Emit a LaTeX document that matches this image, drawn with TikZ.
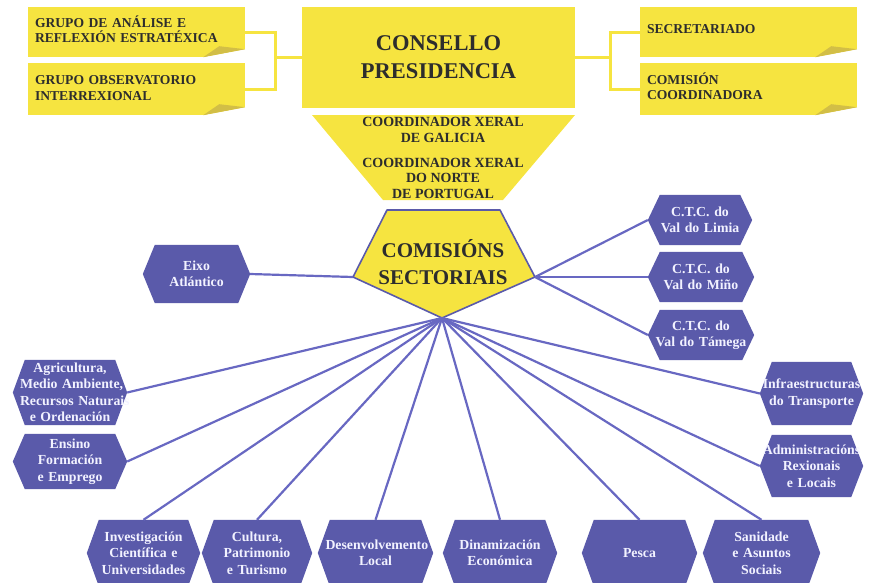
\documentclass[tikz,border=0pt]{standalone}
\usepackage{fontspec}
\setmainfont{Liberation Serif}
\usetikzlibrary{backgrounds}
\pgfdeclarelayer{foreground}
\pgfsetlayers{background,main,foreground}
\definecolor{yel}{RGB}{246,228,64}
\definecolor{fold}{RGB}{210,190,70}
\definecolor{hexf}{RGB}{90,90,170}
\definecolor{conn}{RGB}{104,104,194}
\definecolor{ink}{RGB}{45,45,45}
\definecolor{hext}{RGB}{242,242,255}
\tikzset{
  note/.style={fill=yel, draw=none, minimum width=217pt, minimum height=50pt,
    inner xsep=7pt, inner ysep=0pt, text width=203pt, align=left, text depth=21pt,
    font=\fontsize{13.6}{15.5}\selectfont\bfseries, text=ink,
    append after command={\pgfextra{\begin{pgfonlayer}{foreground}
      \fill[white] (\tikzlastnode.south east) -- ([xshift=-42pt]\tikzlastnode.south east)
        -- ([yshift=8pt]\tikzlastnode.south east) -- cycle;
      \fill[fold] ([xshift=-42pt]\tikzlastnode.south east) -- ([yshift=8pt]\tikzlastnode.south east)
        -- ([xshift=-26pt,yshift=11pt]\tikzlastnode.south east) -- cycle;
      \end{pgfonlayer}}}},
  hexbox/.style 2 args={minimum width=#1, minimum height=#2, inner sep=0pt,
    text width=100pt, align=center, text=hext,
    font=\fontsize{13.8}{16.5}\selectfont\bfseries,
    append after command={\pgfextra{\begin{pgfonlayer}{background}
      \fill[hexf] ([xshift=12pt]\tikzlastnode.north west) -- ([xshift=-12pt]\tikzlastnode.north east)
        -- (\tikzlastnode.east) -- ([xshift=-12pt]\tikzlastnode.south east)
        -- ([xshift=12pt]\tikzlastnode.south west) -- (\tikzlastnode.west) -- cycle;
      \end{pgfonlayer}}}},
  yline/.style={draw=yel, line width=3pt},
  conn/.style={draw=conn, line width=2.2pt},
  bigtxt/.style={text=ink, align=center, font=\fontsize{22.5}{28}\selectfont\bfseries},
  midtxt/.style={text=ink, align=center, font=\fontsize{14}{15.5}\selectfont\bfseries},
}
\begin{document}
\begin{tikzpicture}[x=1pt,y=-1pt]
\useasboundingbox (0,0) rectangle (874,582);
\clip (0,0) rectangle (874,582);

% top yellow boxes
\node[note] (g1) at (136.5,32) {GRUPO DE ANÁLISE E\\REFLEXIÓN ESTRATÉXICA};
\node[note, minimum height=52pt, text depth=18pt] (g2) at (136.5,89) {GRUPO OBSERVATORIO\\INTERREXIONAL};
\node[note, text depth=7pt, inner ysep=3pt] (s1) at (748.5,32) {SECRETARIADO};
\node[note, minimum height=52pt] (s2) at (748.5,89) {COMISIÓN\\COORDINADORA};
\node[fill=yel, minimum width=273pt, minimum height=101pt, bigtxt] (cons) at (438.5,57.5) {CONSELLO\\PRESIDENCIA};

\coordinate (jl) at (275,57.5);
\coordinate (jr) at (610,57.5);
\draw[yline] (g1.east) -| (jl) |- (g2.east);
\draw[yline] (jl) -- (cons.west);
\draw[yline] (s1.west) -| (jr) |- (s2.west);
\draw[yline] (jr) -- (cons.east);

% trapezoid
\fill[yel] (312,115) -- (575,115) -- (503,200) -- (383,200) -- cycle;
\node[midtxt] (cg) at (443,130) {COORDINADOR XERAL\\DE GALICIA};
\node[midtxt] (cp) at (443,178) {COORDINADOR XERAL\\DO NORTE\\DE PORTUGAL};

% pentagon
\coordinate (pl) at (353,277);
\coordinate (pr) at (535,277);
\coordinate (hub) at (442,318);
\draw[fill=yel, draw=hexf, line width=1.6pt, line join=round] (387,210) -- (500,210) -- (pr) -- (hub) -- (pl) -- cycle;
\node[bigtxt, font=\fontsize{21}{27}\selectfont\bfseries] (cs) at (443,262) {COMISIÓNS\\SECTORIAIS};

% hexagons
\node[hexbox={107pt}{58pt}] (eixo) at (196.5,274) {Eixo\\Atlántico};
\node[hexbox={104pt}{50pt}] (limia) at (700,220) {C.T.C. do\\Val do Limia};
\node[hexbox={106pt}{50pt}] (mino) at (701,277) {C.T.C. do\\Val do Miño};
\node[hexbox={106pt}{50pt}] (tamega) at (701,335) {C.T.C. do\\Val do Támega};
\node[hexbox={114pt}{65pt}] (agri) at (70,392.5) {Agricultura,\\\mbox{Medio Ambiente,}\\\mbox{Recursos Naturais}\\e Ordenación};
\node[hexbox={114pt}{55pt}] (ensino) at (70,461.5) {Ensino\\Formación\\e Emprego};
\node[hexbox={103pt}{63pt}] (infra) at (811.5,393.5) {\mbox{Infraestructuras}\\do Transporte};
\node[hexbox={103pt}{62pt}] (admin) at (811.5,466) {\mbox{Administracións}\\Rexionais\\e Locais};
\node[hexbox={113pt}{66pt}] (inv) at (143.5,553) {Investigación\\Científica e\\Universidades};
\node[hexbox={110pt}{66pt}] (cult) at (257,553) {Cultura,\\Patrimonio\\e Turismo};
\node[hexbox={115pt}{66pt}] (desen) at (375.5,553) {\mbox{Desenvolvemento}\\Local};
\node[hexbox={114pt}{66pt}] (dinam) at (500,553) {Dinamización\\Económica};
\node[hexbox={115pt}{66pt}] (pesca) at (639.5,553) {Pesca};
\node[hexbox={117pt}{66pt}] (sani) at (761.5,553) {Sanidade\\e Asuntos\\Sociais};

% connectors
\draw[conn] (eixo.east) -- (pl);
\draw[conn] (pr) -- (limia.west);
\draw[conn] (pr) -- (mino.west);
\draw[conn] (pr) -- (tamega.west);
\draw[conn] (hub) -- (agri.east);
\draw[conn] (hub) -- (ensino.east);
\draw[conn] (hub) -- (inv.north);
\draw[conn] (hub) -- (cult.north);
\draw[conn] (hub) -- (desen.north);
\draw[conn] (hub) -- (dinam.north);
\draw[conn] (hub) -- (pesca.north);
\draw[conn] (hub) -- (sani.north);
\draw[conn] (hub) -- (infra.west);
\draw[conn] (hub) -- (admin.west);
\end{tikzpicture}
\end{document}
